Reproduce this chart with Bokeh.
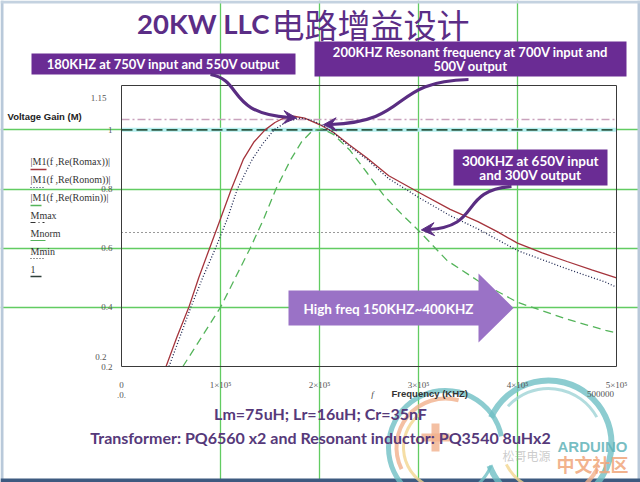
import numpy as np
from bokeh.plotting import figure
from bokeh.models import Range1d, Label, LinearAxis, FixedTicker
from bokeh.embed import file_html
from bokeh.resources import INLINE

# ---------------- data ----------------
freq_romax = [45e3, 56e3, 68e3, 78e3, 89e3, 99e3, 111e3, 123e3, 134e3, 145e3, 155e3, 164e3, 174e3,
              185e3, 200e3, 214e3, 230e3, 248e3, 270e3, 300e3, 332e3, 360e3, 380e3, 400e3, 425e3,
              450e3, 475e3, 500e3]
gain_romax = [0.2, 0.3, 0.4, 0.5, 0.6, 0.69, 0.8, 0.9, 0.96, 1.0, 1.025, 1.04, 1.046,
              1.04, 1.018, 0.992, 0.95, 0.905, 0.845, 0.789, 0.731, 0.69, 0.655, 0.617, 0.584,
              0.555, 0.527, 0.5]

freq_ronom = [48e3, 59e3, 70e3, 82e3, 95e3, 107e3, 117e3, 132e3, 142e3, 154e3, 168e3, 181e3, 193e3,
              205e3, 214e3, 230e3, 248e3, 270e3, 300e3, 332e3, 360e3, 400e3, 450e3, 489e3, 500e3]
gain_ronom = [0.2, 0.3, 0.4, 0.5, 0.6, 0.7, 0.8, 0.9, 0.95, 1.0, 1.03, 1.04, 1.032,
              1.012, 0.99, 0.945, 0.9, 0.835, 0.772, 0.71, 0.665, 0.592, 0.53, 0.485, 0.468]

freq_romin = [62e3, 81e3, 100e3, 115e3, 130e3, 143e3, 156e3, 171e3, 182e3, 193e3, 203e3, 214e3,
              231e3, 248e3, 265e3, 283e3, 300e3, 329e3, 360e3, 400e3, 450e3, 489e3, 500e3]
gain_romin = [0.2, 0.3, 0.4, 0.5, 0.6, 0.694, 0.8, 0.9, 0.96, 0.998, 1.003, 0.985,
              0.93, 0.855, 0.778, 0.715, 0.66, 0.558, 0.49, 0.417, 0.36, 0.322, 0.314]

m_max = 1.035
m_norm = 1.0
m_min = 0.653
unity = 1.0

x_ticks = [0, 100000, 200000, 300000, 400000, 500000]
x_tick_labels = ["0", "1×10⁵", "2×10⁵", "3×10⁵", "4×10⁵", "5×10⁵"]
y_ticks = [0.2, 0.4, 0.6, 0.8, 1.0]
y_tick_labels = ["0.2", "0.4", "0.6", "0.8", "1"]
x_min, x_max = 0, 500000
y_min, y_max = 0.2, 1.15

legend_texts = ["|M1(f ,Re(Romax))|", "|M1(f ,Re(Ronom))|", "|M1(f ,Re(Romin))|",
                "Mmax", "Mnorm", "Mmin", "1"]

# ---------------- layout ----------------
W, H = 640, 482
FL, FR, FT, FB = 121, 616, 85, 366          # chart box in page pixels

# data ranges stretched so that the chart box lands on FL..FR / FT..FB of a full-page frame
sx = (x_max - x_min) / (FR - FL)
sy = (y_max - y_min) / (FB - FT)
xr = Range1d(x_min - FL * sx, x_max + (W - FR) * sx)
yr = Range1d(y_min - (H - FB) * sy, y_max + FT * sy)

p = figure(width=W, height=H, x_range=xr, y_range=yr, output_backend="svg", toolbar_location=None,
           x_axis_location=None, y_axis_location=None,
           min_border=0, min_border_left=0, min_border_right=0, min_border_top=0, min_border_bottom=0)
p.title.visible = False
p.extra_x_ranges = {"px": Range1d(0, W)}
p.extra_y_ranges = {"px": Range1d(H, 0)}
p.background_fill_color = "white"
p.border_fill_color = "white"
p.outline_line_color = None

# axes fixed on the chart box edges
xa = LinearAxis(fixed_location=y_min, ticker=FixedTicker(ticks=x_ticks),
                major_label_overrides={t: l for t, l in zip(x_ticks, x_tick_labels)})
ya = LinearAxis(fixed_location=x_min, ticker=FixedTicker(ticks=y_ticks),
                major_label_overrides={t: l for t, l in zip(y_ticks, y_tick_labels)})
for ax in (xa, ya):
    ax.axis_line_color = None
    ax.major_tick_line_color = None
    ax.minor_tick_line_color = None
    ax.major_label_text_font = "Liberation Serif"
    ax.major_label_text_font_size = "9px"
    ax.major_label_text_color = "#555555"
xa.major_label_standoff = 7
ya.major_label_standoff = 3
p.add_layout(xa, "below")
p.add_layout(ya, "left")

p.xgrid.ticker = FixedTicker(ticks=x_ticks[1:-1])
p.ygrid.ticker = FixedTicker(ticks=y_ticks[1:])
p.xgrid.bounds = (y_min, y_max)
p.ygrid.bounds = (x_min, x_max)
for g in (p.xgrid[0], p.ygrid[0]):
    g.grid_line_color = "#62cc62"
    g.grid_line_width = 1.3

# horizontal reference traces
p.line([x_min, x_max], [m_norm, m_norm], color="#b4efee", line_width=4)
p.line([x_min, x_max], [unity, unity], color="#2f5a44", line_width=1.6, line_dash="11 4")
p.line([x_min, x_max], [m_max, m_max], color="#c9a2bd", line_width=1.3, line_dash="8 3 2 3")
p.line([x_min, x_max], [m_min, m_min], color="#333333", line_width=1.1, line_dash="1 3")

# gain curves
p.line(freq_romax, gain_romax, color="#a5343c", line_width=1.3)
p.line(freq_ronom, gain_ronom, color="#1c2550", line_width=1.3, line_dash="1 2")
p.line(freq_romin, gain_romin, color="#54b45a", line_width=1.3, line_dash="8 5")

# chart box outline
p.quad(left=[x_min], right=[x_max], bottom=[y_min], top=[y_max], fill_color=None,
       line_color="#3a3a3a", line_width=1)

# ---------------- decorations in page pixels ----------------
PX = dict(x_range_name="px", y_range_name="px")

def lab(x, y, text, size, color, font="Liberation Serif", style="normal", align="left",
        baseline="middle", alpha=1.0):
    p.add_layout(Label(x=x, y=y, text=text, text_font_size=f"{size}px", text_color=color,
                       text_font=font, text_font_style=style, text_align=align,
                       text_baseline=baseline, text_alpha=alpha, **PX))

def box(l, r, t, b, color, alpha=1.0):
    p.quad(left=[l], right=[r], top=[t], bottom=[b], fill_color=color, fill_alpha=alpha,
           line_color=None, **PX)

def curved_arrow(P0, P1, P2, P3, color, w=3.2, head_len=13, head_w=13):
    P0, P1, P2, P3 = map(np.array, (P0, P1, P2, P3))
    d = P3 - P2
    d = d / np.hypot(*d)
    nrm = np.array([-d[1], d[0]])
    tip = P3 + d * head_len * 0.55
    base = tip - d * head_len
    notch = tip - d * head_len * 0.6
    p.bezier(x0=[P0[0]], y0=[P0[1]], x1=[P3[0]], y1=[P3[1]], cx0=[P1[0]], cy0=[P1[1]],
             cx1=[P2[0]], cy1=[P2[1]], line_color=color, line_width=w, **PX)
    hx = [tip[0], (base + nrm * head_w / 2)[0], notch[0], (base - nrm * head_w / 2)[0]]
    hy = [tip[1], (base + nrm * head_w / 2)[1], notch[1], (base - nrm * head_w / 2)[1]]
    p.patch(hx, hy, fill_color=color, line_color=color, line_width=1, **PX)

PURPLE = "#6a2c94"
ARROW_C = "#5a2d82"

# slide border
box(0, 3, 0, H, "#b9c9da")
box(W - 3, W, 0, H, "#b9c9da")
box(0, W, 0, 3, "#c4d2e0")
box(0, W, H - 4, H, "#3d5a80")

# watermark (Arduino logo, drawn faintly)
wm = [((445, 447), 57, 5, 0.2, 5.6, "#6fbfc4"), ((445, 447), 49, 4, 1.3, 3.6, "#f1b08c"),
      ((445, 447), 42, 3, 2.2, 4.2, "#f3d68e"), ((445, 447), 49, 3, 4.1, 5.9, "#6fbfc4"),
      ((548, 443), 63, 6, 3.5, 9.0, "#6fbfc4"), ((548, 443), 55, 4, 4.0, 5.8, "#f1b08c"),
      ((548, 443), 47, 3, 3.6, 5.2, "#f3d68e"), ((548, 443), 55, 3, 0.5, 2.4, "#9fd3d6")]
for (cx, cy), r, lw, a0, a1, c in wm:
    p.arc(x=[cx], y=[cy], radius=r, start_angle=a0, end_angle=a1, line_color=c, line_width=lw,
          line_alpha=0.8, **PX)
box(421, 449, 433, 441, "#f1b08c", 0.8)
box(431, 439, 423, 451, "#f1b08c", 0.8)

# annotation boxes
box(31, 295, 53, 74, PURPLE)
box(314, 626, 41, 76, PURPLE)
box(453, 607, 149, 185, PURPLE)
# big range arrow
p.patch([288, 478, 478, 513, 478, 478, 288], [290, 290, 273, 307.5, 342, 325, 325],
        fill_color="#9a72c6", line_color=None, **PX)

# curved arrows
curved_arrow((210, 74), (243, 80), (226, 113), (289, 117), ARROW_C)
curved_arrow((468, 79), (388, 81), (412, 121), (330, 124), ARROW_C)
curved_arrow((511, 186), (458, 190), (482, 226), (428, 229), ARROW_C)

# legend underlines (Mathcad trace list)
segs = [(30, 169, 46, "#a5343c", 1.3, "solid"), (30, 187, 44, "#1c2550", 1.2, "1 2"),
        (30, 205, 41, "#54b45a", 1.3, "solid"), (30, 222, 44, "#333333", 1.0, "5 3 1 3"),
        (30, 240, 45, "#54b45a", 1.0, "solid"), (30, 258, 44, "#333333", 1.0, "1 2"),
        (30, 276, 41, "#2f3f3a", 1.6, "solid")]
for x0, yy, x1, c, lw, dash in segs:
    p.segment(x0=[x0], y0=[yy], x1=[x1], y1=[yy], line_color=c, line_width=lw, line_dash=dash, **PX)

# title
lab(269, 23, "20KW LLC", 27.5, "#5b2d86", font="Lato", style="bold", align="right")
lab(271, 23, "电路增益设计", 33, "#5b2d86", font="Noto Sans CJK SC")

# box texts
lab(163, 63.5, "180KHZ at 750V input and 550V output", 13, "white", font="Lato", style="bold", align="center")
lab(470, 51, "200KHZ Resonant frequency at 700V input and", 13, "white", font="Lato", style="bold", align="center")
lab(470, 65, "500V output", 13, "white", font="Lato", style="bold", align="center")
lab(530, 160.5, "300KHZ at 650V input", 13.5, "white", font="Lato", style="bold", align="center")
lab(530, 174.5, "and 300V output", 13.5, "white", font="Lato", style="bold", align="center")
lab(388, 308, "High freq 150KHZ~400KHZ", 13.5, "white", font="Lato", style="bold", align="center")

# axis-side texts
lab(7, 116, "Voltage Gain (M)", 9.5, "#222222", font="Liberation Sans", style="bold")
lab(106, 97, "1.15", 9, "#555555", align="right")
lab(106, 356, "0.2", 9, "#555555", align="right")
lab(121, 394, ".0.", 9, "#555555", align="center")
lab(372, 393, "f", 9, "#444444", style="italic", align="center")
lab(391, 393, "Frequency (KHZ)", 9.5, "#333333", font="Liberation Sans", style="bold")
lab(600, 393, "500000", 9, "#555555", align="center")

for txt, yy in zip(legend_texts, [161, 179, 197, 215, 233, 251, 269]):
    lab(30, yy, txt, 10, "#333333")

# bottom notes
lab(320, 413, "Lm=75uH; Lr=16uH; Cr=35nF", 16, "#56397a", font="Lato", style="bold", align="center")
lab(320, 437, "Transformer: PQ6560 x2 and Resonant inductor: PQ3540 8uHx2", 16, "#56397a",
    font="Lato", style="bold", align="center")

# watermark texts
lab(592, 446, "ARDUINO", 15, "#5fb3b8", font="Liberation Sans", style="bold", align="center", alpha=0.85)
lab(592, 463, "中文社区", 18, "#f0a57a", font="Noto Sans CJK SC", style="bold", align="center", alpha=0.85)
lab(526, 455, "松哥电源", 12, "#999999", font="Noto Sans CJK SC", align="center", alpha=0.5)

open("out.html", "w").write(file_html(p, INLINE))
